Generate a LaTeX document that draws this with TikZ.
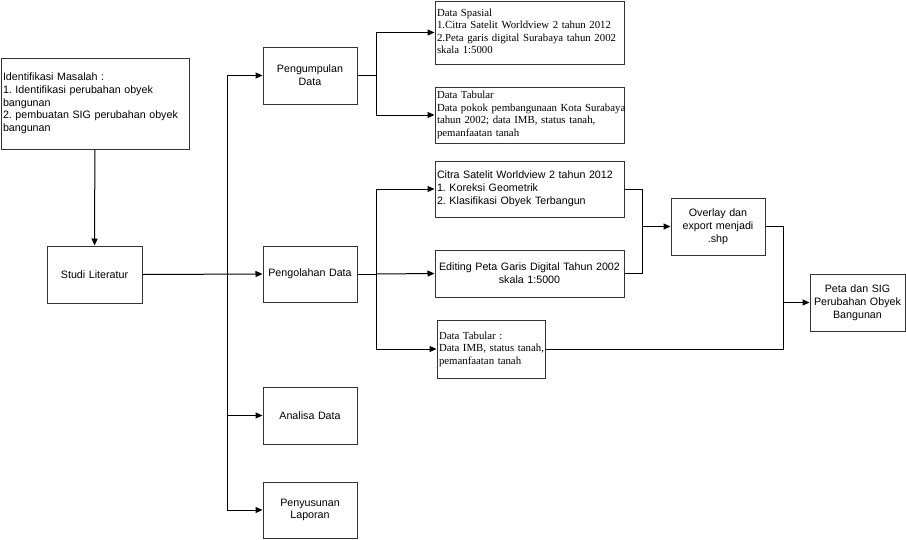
\documentclass[tikz,border=0pt]{standalone}
\usepackage{fontspec}
\usetikzlibrary{arrows.meta}
\newfontfamily\arialf{Liberation Sans}
\newfontfamily\tnrf{Liberation Serif}
\newcommand{\lines}[1]{\begin{tabular}{@{}l@{}}#1\end{tabular}}
\frenchspacing
\tikzset{
  box/.style={draw=black!80, line width=1pt, inner xsep=2pt, inner ysep=0pt, minimum height=#1},
  sans/.style={font=\arialf\fontsize{10.7}{12.8}\selectfont},
  serif/.style={font=\tnrf\fontsize{10.8}{12.5}\selectfont},
  conn/.style={draw=black, line width=1pt},
  arr/.style={conn, -{Triangle[length=7pt,width=6pt]}},
}
\begin{document}
\begin{tikzpicture}[x=1pt,y=-1pt]
\useasboundingbox (0,0) rectangle (906,539);
% nodes
\node[box=91pt, sans, text width=184pt, align=left] (ident) at (95,103.5)
  {\lines{Identifikasi Masalah :\\1. Identifikasi perubahan obyek\\bangunan\\2. pembuatan SIG perubahan obyek\\bangunan}};
\node[box=57pt, sans, text width=91pt, align=center] (studi) at (94.5,274.5) {Studi Literatur};
\node[box=57pt, sans, text width=90pt, align=center] (kumpul) at (310,75.5) {Pengumpulan\\Data};
\node[box=56pt, sans, text width=90pt, align=center] (olah) at (310,274) {Pengolahan Data};
\node[box=57pt, sans, text width=90pt, align=center] (analisa) at (310,415.5) {Analisa Data};
\node[box=56pt, sans, text width=90pt, align=center] (susun) at (310,510) {Penyusunan\\Laporan};
\node[box=63pt, serif, text width=185pt, align=left] (spasial) at (529.5,32.5)
  {\lines{Data Spasial\\1.Citra Satelit Worldview 2 tahun 2012\\2.Peta garis digital Surabaya tahun 2002\\skala 1:5000}};
\node[box=56pt, serif, text width=185pt, align=left] (tab1) at (529.5,115)
  {\lines{Data Tabular\\Data pokok pembangunaan Kota Surabaya\\tahun 2002; data IMB, status tanah,\\pemanfaatan tanah}};
\node[box=56pt, sans, text width=185pt, align=left] (citra) at (529.5,189)
  {\lines{Citra Satelit Worldview 2 tahun 2012\\1. Koreksi Geometrik\\2. Klasifikasi Obyek Terbangun}};
\node[box=47pt, sans, text width=185pt, align=center] (edit) at (529.5,273.5)
  {Editing Peta Garis Digital Tahun 2002\\skala 1:5000};
\node[box=58pt, serif, text width=104pt, align=left] (tab2) at (491,349)
  {\lines{Data Tabular :\\Data IMB, status tanah,\\pemanfaatan tanah}};
\node[box=57pt, sans, text width=90pt, align=center] (overlay) at (718,226.5)
  {Overlay dan\\export menjadi\\.shp};
\node[box=57pt, sans, text width=91pt, align=center] (peta) at (857.5,302.5)
  {Peta dan SIG\\Perubahan Obyek\\Bangunan};
% coordinates
\coordinate (tTop) at (227,75.5);
\coordinate (tBot) at (227,510);
\coordinate (b1) at (376,75.5);
\coordinate (b2) at (376,274);
\coordinate (m1) at (642,189);
\coordinate (m2) at (642,273.5);
\coordinate (m3) at (642,226.5);
\coordinate (n1) at (783,226.5);
\coordinate (n2) at (783,349);
\coordinate (n3) at (783,302.5);
% connectors
\draw[arr] (ident) -- (studi);
\draw[arr] (studi.east) -- (olah.west);
\draw[conn] (tTop) -- (tBot);
\draw[arr] (tTop) -- (kumpul.west);
\draw[arr] (tTop |- analisa.west) -- (analisa.west);
\draw[arr] (tBot) -- (susun.west);
\draw[conn] (kumpul.east) -- (b1);
\draw[conn] (b1 |- spasial.west) -- (b1 |- tab1.west);
\draw[arr] (b1 |- spasial.west) -- (spasial.west);
\draw[arr] (b1 |- tab1.west) -- (tab1.west);
\draw[conn] (olah.east) -- (b2);
\draw[conn] (b2 |- citra.west) -- (b2 |- tab2.west);
\draw[arr] (b2 |- citra.west) -- (citra.west);
\draw[arr] (b2) -- (edit.west);
\draw[arr] (b2 |- tab2.west) -- (tab2.west);
\draw[conn] (citra.east) -- (m1) -- (m2) -- (edit.east);
\draw[arr] (m3) -- (overlay.west);
\draw[conn] (overlay.east) -- (n1) -- (n2) -- (tab2.east);
\draw[arr] (n3) -- (peta.west);
\end{tikzpicture}
\end{document}
